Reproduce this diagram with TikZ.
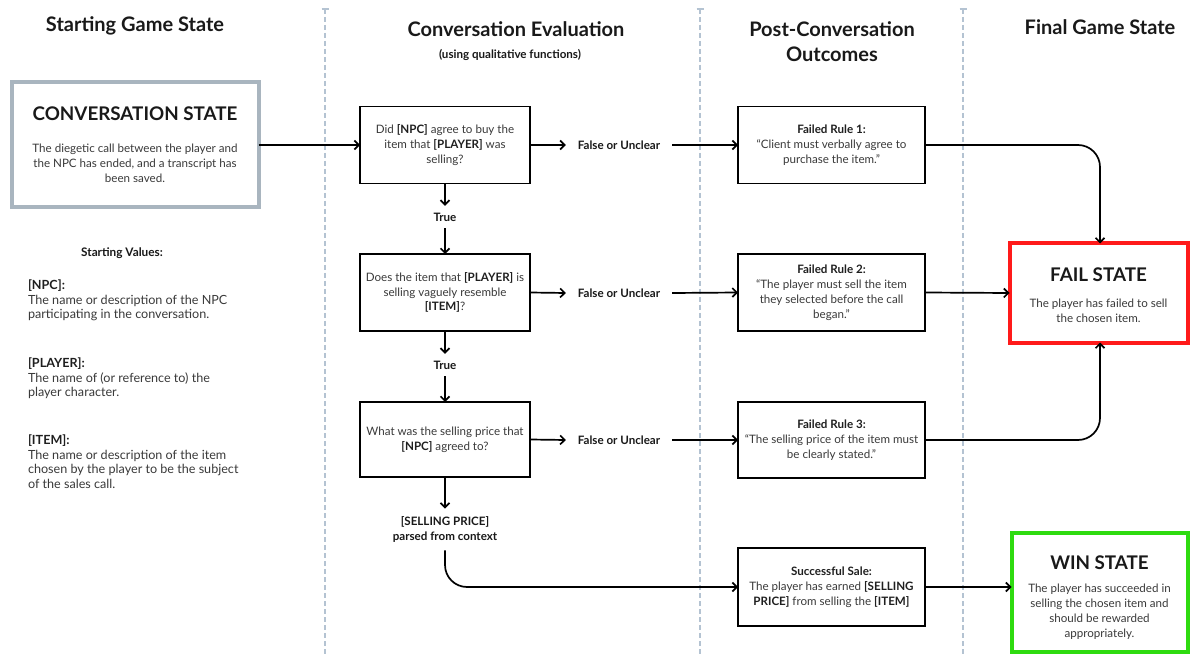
\documentclass[tikz,border=0pt]{standalone}
\usepackage{fontspec}
\setmainfont{Lato}
\usetikzlibrary{arrows.meta}
\definecolor{sepblue}{HTML}{B4C3D2}
\definecolor{startgray}{HTML}{A9B5BF}
\definecolor{failred}{HTML}{FF1A1A}
\definecolor{wingreen}{HTML}{2EDB10}
\definecolor{bodytext}{HTML}{3A3A3A}
\newcommand{\hdrfont}{\fontsize{20}{25}\selectfont\bfseries}
\newcommand{\statefont}{\fontsize{18.8}{22}\selectfont\bfseries}
\newcommand{\bodyfont}{\fontsize{11.6}{14.9}\selectfont}
\newcommand{\valfont}{\fontsize{12.6}{14.6}\selectfont}
\newcommand{\lblfont}{\fontsize{11.6}{14.9}\selectfont\bfseries}
\newcommand{\kw}[1]{{\bfseries\color{black!88}#1}}
\begin{document}
\begin{tikzpicture}[x=1pt,y=-1pt,
  every node/.style={inner sep=0pt, outer sep=0pt},
  arr/.style={draw=black, line width=1.7pt, -{Straight Barb[length=4.5pt,width=9pt,line width=1.7pt]}},
  sep/.style={draw=sepblue, line width=1.3pt, dash pattern=on 5pt off 3pt},
  qbox/.style={draw=black, line width=1.8pt, minimum width=170pt, minimum height=77pt,
    align=center, font=\bodyfont, text=bodytext},
  rbox/.style={draw=black, line width=1.8pt, minimum width=187pt, minimum height=77pt,
    align=center, font=\bodyfont, text=bodytext},
  statebox/.style={line width=4pt, align=center, font=\bodyfont, text=bodytext, fill=white},
  hdr/.style={font=\hdrfont, text=black!90, align=center},
  lbl/.style={font=\lblfont, text=black!90, align=center},
  vals/.style={anchor=north west, align=left, font=\valfont, text=bodytext}]
\useasboundingbox[fill=white] (0,0) rectangle (1195,655);

% column separators with small caps on top
\foreach \sx/\nm in {325/sa,700/sb,963/sc}{
  \coordinate (\nm top) at (\sx,9);
  \coordinate (\nm bot) at (\sx,655);
  \draw[sep] (\nm top) -- (\nm bot);
  \draw[draw=sepblue, line width=1.3pt] ([xshift=-3.5pt]\nm top) -- ([xshift=3.5pt]\nm top);
}

% column headings
\node[hdr] (h1) at (135,26) {Starting Game State};
\node[hdr] (h2) at (516,29) {Conversation Evaluation};
\node[font=\fontsize{11.6}{13}\selectfont\bfseries, text=black!90] (h2s) at (510,55) {(using qualitative functions)};
\node[hdr, font=\fontsize{20}{25}\selectfont\bfseries] (h3) at (832,42) {Post-Conversation\\Outcomes};
\node[hdr] (h4) at (1100,27) {Final Game State};

% starting state
\node[statebox, draw=startgray, minimum width=247pt, minimum height=125pt] (conv) at (135,145)
  {{\statefont\color{black!90}CONVERSATION STATE}\\[17pt]
   The diegetic call between the player and\\the NPC has ended, and a transcript has\\been saved.};

\node[font=\fontsize{11.8}{13}\selectfont\bfseries, text=black!90] (sv) at (122,253) {Starting Values:};
\node[vals] (vnpc) at (28,280) {\kw{[NPC]:}\\The name or description of the NPC\\participating in the conversation.};
\node[vals] (vplayer) at (28,358) {\kw{[PLAYER]:}\\The name of (or reference to) the\\player character.};
\node[vals] (vitem) at (28,435) {\kw{[ITEM]:}\\The name or description of the item\\chosen by the player to be the subject\\of the sales call.};

% evaluation questions
\node[qbox] (q1) at (445,145) {Did \kw{[NPC]} agree to buy the\\item that \kw{[PLAYER]} was\\selling?};
\node[qbox, minimum height=77pt] (q2) at (445,292.5) {Does the item that \kw{[PLAYER]} is\\selling vaguely resemble\\\kw{[ITEM]}?};
\node[qbox, minimum height=75pt] (q3) at (445,439.5) {What was the selling price that\\\kw{[NPC]} agreed to?};

\node[lbl, inner ysep=7pt] (t1) at (445,217) {True};
\node[lbl, inner ysep=7pt] (t2) at (445,365) {True};
\node[lbl, inner ysep=8pt] (sp) at (445,529.5) {[SELLING PRICE]\\parsed from context};

\node[lbl, inner xsep=12pt] (f1) at (619,145) {False or Unclear};
\node[lbl, inner xsep=12pt] (f2) at (619,293) {False or Unclear};
\node[lbl, inner xsep=12pt] (f3) at (619,440) {False or Unclear};

% outcomes
\node[rbox] (r1) at (831.5,145) {\kw{Failed Rule 1:}\\“Client must verbally agree to\\purchase the item.”};
\node[rbox] (r2) at (831.5,292.5) {\kw{Failed Rule 2:}\\“The player must sell the item\\they selected before the call\\began.”};
\node[rbox, minimum height=76pt] (r3) at (831.5,440) {\kw{Failed Rule 3:}\\“The selling price of the item must\\be clearly stated.”};
\node[rbox, minimum height=78pt] (ss) at (831.5,587) {\kw{Successful Sale:}\\The player has earned \kw{[SELLING}\\\kw{PRICE]} from selling the \kw{[ITEM]}};

% final states
\node[statebox, draw=failred, minimum width=178pt, minimum height=99pt] (fail) at (1098.5,293)
  {{\statefont\color{black!90}\rule{0pt}{18pt}FAIL STATE}\\[11pt]The player has failed to sell\\the chosen item.};
\node[statebox, draw=wingreen, minimum width=176pt, minimum height=119pt] (win) at (1099.5,592)
  {{\statefont\color{black!90}\rule{0pt}{25pt}WIN STATE}\\[8pt]The player has succeeded in\\selling the chosen item and\\should be rewarded\\appropriately.};

% connectors
\draw[arr] (conv.east) -- (q1.west);
\draw[arr] (q1.south) -- (t1.north);
\draw[arr] (t1.south) -- (q2.north);
\draw[arr] (q2.south) -- (t2.north);
\draw[arr] (t2.south) -- (q3.north);
\draw[arr] (q3.south) -- (sp.north);
\draw[arr, rounded corners=22pt] (sp.south) |- (ss.west);

\draw[arr] (q1.east) -- (f1.west);
\draw[arr] (q2.east) -- (f2.west);
\draw[arr] (q3.east) -- (f3.west);
\draw[arr] (f1.east) -- (r1.west);
\draw[arr] (f2.east) -- (r2.west);
\draw[arr] (f3.east) -- (r3.west);

\draw[arr, rounded corners=22pt] (r1.east) -| ([xshift=1.5pt]fail.north);
\draw[arr] (r2.east) -- (fail.west);
\draw[arr, rounded corners=22pt] (r3.east) -| ([xshift=1.5pt]fail.south);
\draw[arr] (ss.east) -- (ss.east -| win.west);
\end{tikzpicture}
\end{document}
